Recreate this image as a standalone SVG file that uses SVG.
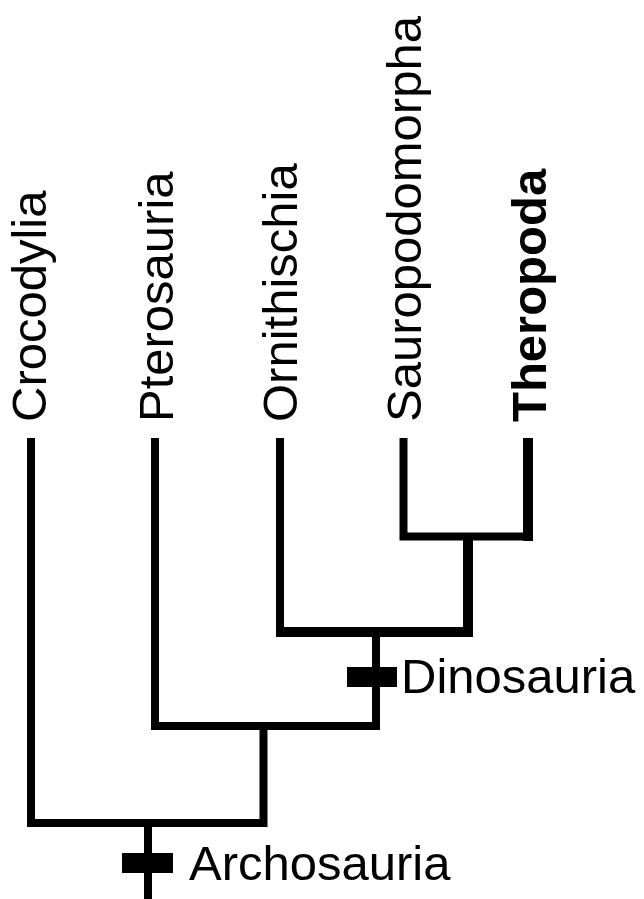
<svg xmlns="http://www.w3.org/2000/svg" width="644" height="899" viewBox="0 0 644 899">
<style>
.br{fill:none;stroke:#000;stroke-width:8;stroke-linejoin:miter;stroke-linecap:butt}
.thick{stroke-width:10}
.lab{font-family:"Liberation Sans",Arial,sans-serif;font-size:49px;fill:#000}
.bold{font-weight:bold}
.mk{fill:#000}
</style>
<rect width="644" height="899" fill="#fff"/>
<g id="connectors">
<path class="br" d="M31,438 V823 H263.5 V726"/>
<path class="br" d="M155,438 V726 H376 V632"/>
<path class="br" d="M280,438 V632"/>
<path class="br thick" d="M276,632 H468 V536"/>
<path class="br" d="M403.5,438 V536.5 H528"/>
<path class="br thick" d="M528,438 V541"/>
<path class="br" d="M148,823 V899"/>
</g>
<g id="Crocodylia"><text class="lab" transform="translate(46,422) rotate(-90)">Crocodylia</text></g>
<g id="Pterosauria"><text class="lab" transform="translate(173,422) rotate(-90)">Pterosauria</text></g>
<g id="Ornithischia"><text class="lab" transform="translate(297,422) rotate(-90)">Ornithischia</text></g>
<g id="Sauropodomorpha"><text class="lab" transform="translate(421,422) rotate(-90)">Sauropodomorpha</text></g>
<g id="Theropoda"><text class="lab bold" transform="translate(546,422) rotate(-90)">Theropoda</text></g>
<g id="Dinosauria"><rect class="mk" x="347" y="667" width="50" height="20"/><text class="lab" x="401" y="693">Dinosauria</text></g>
<g id="Archosauria"><rect class="mk" x="122" y="853" width="51" height="20"/><text class="lab" x="189" y="880">Archosauria</text></g>
</svg>
